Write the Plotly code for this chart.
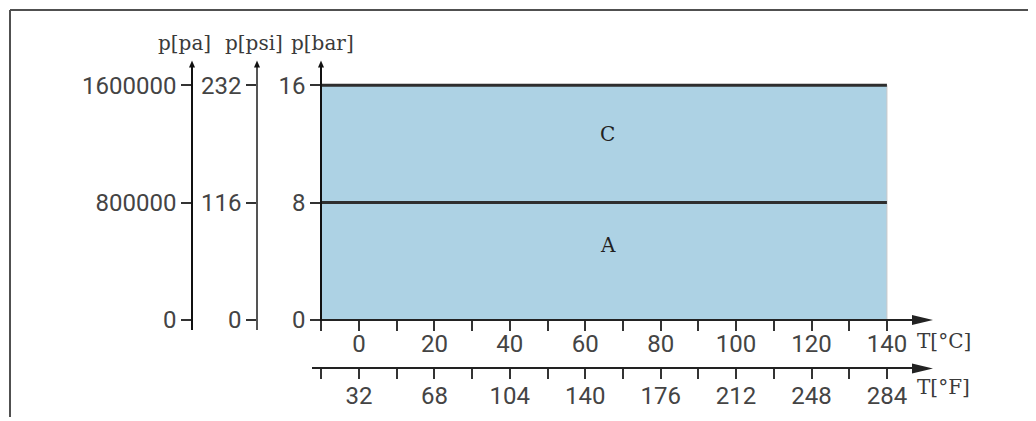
import plotly.graph_objects as go

# permitted operating area: temperature span (°C) and pressure limits (bar)
temp_range_c = [-10, 140]
pressure_limits_bar = [8, 16]

# axis ticks
bar_ticks = [0, 8, 16]
psi_ticks = [0, 116, 232]
pa_ticks = [0, 800000, 1600000]
c_ticks = [0, 20, 40, 60, 80, 100, 120, 140]
f_ticks = [32, 68, 104, 140, 176, 212, 248, 284]

# area labels
area_names = ["A", "C"]
area_x = [66, 66]
area_y = [5.1, 12.7]

PSI_PER_BAR = 14.5
PA_PER_BAR = 100000

# page geometry (pixels of the 1036x421 view)
W, H = 1036, 421
OFF = 8                          # page body margin
FIG_W, FIG_H = W - OFF, H - OFF
C0_PX, C_PX = 359, 3.771         # x pixel of 0 °C, pixels per °C
BAR0_PY, BAR_PX = 323, 14.8125   # y pixel of 0 bar, pixels per bar


def c_at(x):
    return (x - C0_PX) / C_PX


def bar_at(y):
    return (BAR0_PY - y) / BAR_PX


def f_of(c):
    return c * 1.8 + 32


def px(x):
    return (x - OFF) / FIG_W


def py(y):
    return (FIG_H - (y - OFF)) / FIG_H


NUM_FONT = dict(family="Roboto", size=24, color="#444444")
TXT_FONT = dict(family="DejaVu Serif", size=20, color="#3a3a3a")

y_range = [bar_at(333), bar_at(68)]
x_range = [c_at(321), c_at(912)]
f_range = [f_of(c_at(312)), f_of(c_at(912))]

fig = go.Figure()

t0, t1 = temp_range_c
pmax = max(pressure_limits_bar)
fig.add_trace(go.Scatter(
    x=[t0, t1, t1, t0, t0], y=[0, 0, pmax, pmax, 0],
    fill="toself", fillcolor="#add2e4", mode="lines",
    line=dict(color="#c8c8c8", width=1), hoverinfo="skip",
))
for p in pressure_limits_bar:
    fig.add_trace(go.Scatter(
        x=temp_range_c, y=[p, p], mode="lines",
        line=dict(color="#2e2e2e", width=3), hoverinfo="skip",
    ))

# invisible traces so the extra axes get drawn
fig.add_trace(go.Scatter(x=[t0] * 3, y=psi_ticks, yaxis="y2", mode="markers",
                         marker=dict(opacity=0), hoverinfo="skip"))
fig.add_trace(go.Scatter(x=[t0] * 3, y=pa_ticks, yaxis="y3", mode="markers",
                         marker=dict(opacity=0), hoverinfo="skip"))
fig.add_trace(go.Scatter(x=f_ticks, y=[0] * len(f_ticks), xaxis="x2", mode="markers",
                         marker=dict(opacity=0), hoverinfo="skip"))

for name, x, y in zip(area_names, area_x, area_y):
    fig.add_annotation(x=x, y=y, text=name, showarrow=False,
                       font=dict(family="DejaVu Serif", size=20, color="#222222"))

axis_common = dict(showgrid=False, zeroline=False, showline=True, ticks="outside",
                   ticklen=10, tickwidth=1.5, tickcolor="#333333", tickfont=NUM_FONT,
                   fixedrange=True)

fig.update_layout(
    width=FIG_W, height=FIG_H,
    margin=dict(l=0, r=0, t=0, b=0),
    paper_bgcolor="white", plot_bgcolor="rgba(0,0,0,0)",
    showlegend=False,
    xaxis=dict(axis_common, domain=[px(321), px(912)], range=x_range,
               anchor="free", position=py(BAR0_PY),
               tickvals=c_ticks, ticktext=[str(v) for v in c_ticks],
               ticklabelstandoff=-7,
               linecolor="#222222", linewidth=1.5,
               minor=dict(dtick=10, tick0=0, ticks="outside", ticklen=10,
                          tickwidth=1.5, tickcolor="#333333")),
    xaxis2=dict(axis_common, domain=[px(312), px(912)], range=f_range,
                anchor="free", position=py(372), side="bottom",
                tickvals=f_ticks, ticktext=[str(v) for v in f_ticks],
                ticklabelstandoff=-4,
                linecolor="#222222", linewidth=1.5,
                minor=dict(dtick=36, tick0=14, ticks="outside", ticklen=10,
                           tickwidth=1.5, tickcolor="#333333")),
    yaxis=dict(axis_common, domain=[py(333), py(68)], range=y_range,
               anchor="free", position=px(321),
               tickvals=bar_ticks, ticktext=[str(v) for v in bar_ticks],
               linecolor="#111111", linewidth=1.5),
    yaxis2=dict(axis_common, overlaying="y", range=[v * PSI_PER_BAR for v in y_range],
                anchor="free", position=px(257),
                tickvals=psi_ticks, ticktext=[str(v) for v in psi_ticks],
                linecolor="#555555", linewidth=1.5),
    yaxis3=dict(axis_common, overlaying="y", range=[v * PA_PER_BAR for v in y_range],
                anchor="free", position=px(192),
                tickvals=pa_ticks, ticktext=[str(v) for v in pa_ticks],
                linecolor="#111111", linewidth=1.5),
)

# arrow heads at the axis ends
arrow_up = "M-3,0 L3,0 L0,7 Z"
arrow_right = "M0,-5 L0,5 L21,0 Z"
for xpos in [192, 257, 321]:
    fig.add_shape(type="path", path=arrow_up, xref="paper", yref="paper",
                  xsizemode="pixel", ysizemode="pixel",
                  xanchor=px(xpos), yanchor=py(68),
                  fillcolor="#111111", line=dict(width=0))
for ypos in [BAR0_PY, 372]:
    fig.add_shape(type="path", path=arrow_right, xref="paper", yref="paper",
                  xsizemode="pixel", ysizemode="pixel",
                  xanchor=px(912), yanchor=py(ypos),
                  fillcolor="#222222", line=dict(width=0))

# axis names
for text, xpos in [("p[pa]", 184), ("p[psi]", 254), ("p[bar]", 322)]:
    fig.add_annotation(x=px(xpos), y=py(43), xref="paper", yref="paper",
                       xanchor="center", yanchor="middle",
                       text=text, showarrow=False, font=TXT_FONT)
for text, ypos in [("T[°C]", 344), ("T[°F]", 391)]:
    fig.add_annotation(x=px(915), y=py(ypos), xref="paper", yref="paper",
                       xanchor="left", yanchor="middle",
                       text=text, showarrow=False, font=TXT_FONT)

# frame
fig.add_shape(type="line", xref="paper", yref="paper", x0=px(10), x1=1,
              y0=py(10), y1=py(10), line=dict(color="#505050", width=2))
fig.add_shape(type="line", xref="paper", yref="paper", x0=px(10), x1=px(10),
              y0=0, y1=py(10), line=dict(color="#505050", width=2))

fig.write_html("out.html")
